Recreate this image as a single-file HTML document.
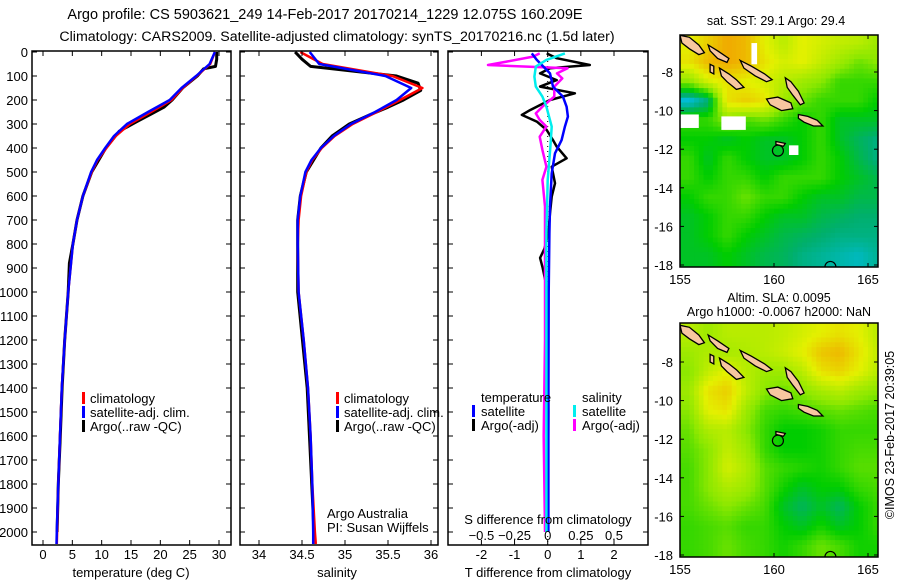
<!DOCTYPE html>
<html><head><meta charset="utf-8"><style>
body{margin:0;background:#fff;}
svg{display:block;font-family:"Liberation Sans",sans-serif;}
text{font-size:13px;fill:#000;}
</style></head><body>
<svg id="fig" width="900" height="580" viewBox="0 0 900 580" xmlns="http://www.w3.org/2000/svg">
<text x="325" y="19" text-anchor="middle" style="font-size:14.5px">Argo profile: CS 5903621_249 14-Feb-2017 20170214_1229 12.075S 160.209E</text>
<text x="337" y="41" text-anchor="middle" style="font-size:14.2px">Climatology: CARS2009. Satellite-adjusted climatology: synTS_20170216.nc (1.5d later)</text>
<text x="776" y="25" text-anchor="middle" style="font-size:12.5px">sat. SST: 29.1  Argo: 29.4</text>
<text x="779" y="302" text-anchor="middle" style="font-size:12.5px">Altim. SLA: 0.0095</text>
<text x="779" y="316" text-anchor="middle" style="font-size:12.5px">Argo h1000: -0.0067 h2000: NaN</text>
<text transform="translate(894,435) rotate(-90)" text-anchor="middle" style="font-size:12.5px">©IMOS 23-Feb-2017 20:39:05</text>
<g id="g"></g>
</svg>
<script>
// ---- profile data ----
const climDepth=[0,50,100,150,200,250,300,350,400,450,500,600,700,800,1000,1200,1400,1600,1800,2000,2050];
const climT=[29.3,28.5,26.2,23.8,21.9,18.4,14.8,12.4,10.8,9.3,8.3,6.8,5.8,5.1,4.3,3.7,3.2,2.9,2.6,2.4,2.35];
const satT=[29.3,28.4,26.1,23.6,21.6,17.9,14.3,12.1,10.6,9.2,8.2,6.8,5.8,5.1,4.3,3.7,3.2,2.9,2.6,2.35,2.3];
const argoTDepth=[0,30,60,70,100,150,200,230,260,290,330,400,500,600,700,800,880,1000,1200,1400,1600,1800,2000];
const argoT=[29.6,29.6,29.4,27.4,26.3,23.8,22.0,20.6,18.3,16.0,13.0,10.7,8.3,6.8,5.8,5.1,4.5,4.3,3.7,3.25,2.95,2.6,2.4];
const climS=[34.48,34.74,35.55,35.9,35.64,35.37,35.09,34.88,34.73,34.62,34.55,34.49,34.46,34.45,34.46,34.52,34.57,34.6,34.62,34.65,34.66];
const satS=[34.59,34.70,35.47,35.77,35.60,35.35,35.07,34.87,34.72,34.61,34.54,34.48,34.45,34.45,34.46,34.52,34.57,34.6,34.62,34.63,34.63];
const argoSDepth=[0,30,60,70,100,130,160,200,230,260,300,350,400,500,600,700,1000,1400,2000];
const argoS=[34.42,34.5,34.6,34.85,35.6,35.85,35.88,35.68,35.5,35.3,35.05,34.85,34.72,34.55,34.48,34.45,34.45,34.56,34.64];
// ---- difference data ----
const dTsatDepth=[6,33,89,144,186,228,269,311,367,422,506,644,756,1000,1500,2000];
const dTsat=[-0.48,-0.33,0.07,0.16,0.46,0.57,0.61,0.52,0.42,0.22,0.12,0.07,0.05,0.03,0.02,0.02];
const dTargoDepth=[6,26,54,68,89,117,144,172,200,242,262,290,325,367,394,443,478,547,603,672,756,820,858,900,1000,1500,2000];
const dTargo=[-0.03,0.27,1.27,0.07,-0.23,0.27,-0.23,0.82,0.07,-0.53,-0.78,-0.33,-0.03,0.16,0.27,0.57,0.12,0.22,0.12,0.07,0.02,-0.1,-0.23,-0.15,0.0,0.02,0.0];
const dSsatDepth=[6,33,61,103,144,186,228,311,394,533,756,1200,2000];
const dSsat=[0.13,-0.01,-0.09,-0.10,-0.09,-0.04,-0.01,0.03,0.02,0.0,-0.01,-0.01,-0.01];
const dSargoDepth=[6,19,40,54,68,89,110,144,186,228,256,283,311,353,408,478,533,644,756,1200,1600,2000];
const dSargo=[-0.06,-0.11,-0.31,-0.45,0.15,0.07,0.11,0.05,0.05,-0.04,-0.09,-0.06,-0.01,-0.06,-0.04,-0.01,-0.04,-0.02,-0.02,-0.02,-0.03,-0.02];
// ---- map data (colour index grids, rows lat -6.5..-17.5, cols lon 155.5..165.5) ----
const mapLats=[-6.5,-7.5,-8.5,-9.5,-10.5,-11.5,-12.5,-13.5,-14.5,-15.5,-16.5,-17.5];
const mapLons=[155.5,156.5,157.5,158.5,159.5,160.5,161.5,162.5,163.5,164.5,165.5];
const sstGrid=[
[.70,.75,.80,.78,.70,.65,.70,.68,.66,.65,.62],
[.72,.78,.80,.78,.72,.68,.70,.66,.62,.58,.60],
[.60,.68,.72,.70,.68,.65,.62,.60,.55,.55,.55],
[.40,.45,.72,.75,.72,.62,.58,.55,.55,.55,.52],
[.55,.55,.60,.56,.58,.55,.52,.55,.50,.50,.50],
[.52,.52,.50,.52,.50,.50,.52,.55,.50,.47,.45],
[.55,.50,.55,.52,.50,.50,.52,.55,.52,.48,.45],
[.55,.52,.55,.55,.52,.55,.55,.55,.52,.50,.48],
[.52,.55,.55,.58,.55,.55,.52,.50,.50,.48,.48],
[.50,.52,.55,.55,.52,.50,.50,.48,.47,.46,.46],
[.50,.52,.55,.52,.50,.48,.47,.46,.45,.45,.45],
[.50,.50,.52,.50,.48,.47,.45,.44,.43,.42,.44]];
const sstGaps=[[155,-10.2,156,-10.9],[157.2,-10.3,158.5,-11.0],[158.8,-6.5,159.1,-7.6],[160.8,-11.8,161.3,-12.3]];
const slaGrid=[
[.65,.62,.65,.65,.65,.66,.68,.70,.72,.70,.65],
[.62,.64,.63,.64,.65,.67,.70,.76,.78,.72,.66],
[.60,.66,.70,.65,.62,.62,.65,.72,.74,.70,.65],
[.62,.72,.75,.66,.60,.58,.60,.63,.65,.62,.60],
[.60,.70,.72,.62,.56,.55,.56,.57,.58,.57,.56],
[.58,.64,.65,.60,.55,.52,.52,.53,.55,.55,.55],
[.57,.60,.66,.62,.55,.52,.52,.53,.55,.56,.56],
[.56,.60,.68,.64,.57,.55,.54,.53,.55,.57,.57],
[.56,.60,.64,.62,.57,.53,.50,.52,.52,.55,.56],
[.56,.58,.60,.58,.56,.50,.47,.50,.47,.52,.55],
[.55,.56,.57,.55,.55,.52,.50,.53,.50,.52,.55],
[.55,.56,.58,.56,.55,.53,.55,.58,.56,.53,.53]];
const islands=[
[[155.0,-6.1],[155.5,-6.2],[156.0,-6.6],[156.3,-7.0],[156.0,-7.1],[155.5,-6.8],[155.1,-6.5]],
[[156.5,-6.6],[157.0,-6.9],[157.6,-7.3],[157.5,-7.5],[157.0,-7.3],[156.6,-6.9]],
[[158.2,-7.4],[158.8,-7.7],[159.5,-8.1],[159.9,-8.4],[159.6,-8.5],[159.0,-8.2],[158.4,-7.8]],
[[157.1,-7.8],[157.6,-8.1],[158.0,-8.4],[158.4,-8.8],[158.0,-8.9],[157.5,-8.5],[157.2,-8.2]],
[[156.6,-7.6],[156.8,-7.7],[156.8,-8.1],[156.6,-8.0]],
[[159.6,-9.4],[160.2,-9.3],[160.9,-9.6],[161.0,-9.9],[160.4,-10.0],[159.8,-9.7]],
[[160.6,-8.3],[160.9,-8.5],[161.3,-9.0],[161.6,-9.6],[161.4,-9.7],[161.0,-9.2],[160.7,-8.8]],
[[161.3,-10.2],[161.8,-10.3],[162.3,-10.5],[162.6,-10.8],[162.1,-10.8],[161.6,-10.6],[161.3,-10.4]],
[[160.1,-11.6],[160.6,-11.7],[160.5,-11.85],[160.1,-11.75]]];
const floatLon=160.209, floatLat=-12.075;

const NS='http://www.w3.org/2000/svg';
const G=document.getElementById('g');
function mk(tag,attrs,parent){const e=document.createElementNS(NS,tag);for(const k in attrs)e.setAttribute(k,attrs[k]);(parent||G).appendChild(e);return e;}
function lin(d0,d1,r0,r1){return v=>r0+(v-d0)*(r1-r0)/(d1-d0);}
const yD=lin(0,2000,52,532);
function polyline(xs,ds,xf,col,w,name,clip){
  const pts=xs.map((v,i)=>xf(v).toFixed(1)+','+yD(ds[i]).toFixed(1)).join(' ');
  const p=mk('polyline',{points:pts,fill:'none',stroke:col,'stroke-width':w,'stroke-linejoin':'round','clip-path':clip});
  
  
}
function frame(x0,x1,y0,y1,name){
  const r=mk('rect',{x:x0,y:y0,width:x1-x0,height:y1-y0,fill:'none',stroke:'#000','stroke-width':1.5});
  
  
}
function text(x,y,s,anchor,name,size){
  const t=mk('text',{x:x,y:y,'text-anchor':anchor||'start'});
  if(size)t.style.fontSize=size+'px';
  t.textContent=s;
  
  
  return t;
}
function clip(id,x0,x1,y0,y1){const d=mk('clipPath',{id:id});mk('rect',{x:x0,y:y0,width:x1-x0,height:y1-y0},d);return 'url(#'+id+')';}
const Y0=52-1,Y1=545;
const depthTicks=[0,100,200,300,400,500,600,700,800,900,1000,1100,1200,1300,1400,1500,1600,1700,1800,1900,2000];
function depthTickMarks(x0,x1,labels){
  depthTicks.forEach(d=>{const y=yD(d);
    mk('line',{x1:x0,y1:y,x2:x0+5,y2:y,stroke:'#000'});mk('line',{x1:x1,y1:y,x2:x1-5,y2:y,stroke:'#000'});
    if(labels)text(x0-4,y+5,String(d),'end','depth-tick-label');});
}
function xTicks(vals,xf,yTop,yBot,labY,labels,name){
  vals.forEach((v,i)=>{const x=xf(v);
    mk('line',{x1:x,y1:yBot,x2:x,y2:yBot-5,stroke:'#000'});mk('line',{x1:x,y1:yTop,x2:x,y2:yTop+5,stroke:'#000'});
    if(labels)text(x,labY,labels[i],'middle',name);});
}
function legend(x,y,items,name){
  items.forEach((it,i)=>{mk('rect',{x:x,y:y+i*14-11,width:3,height:12,fill:it[1]});text(x+8,y+i*14,it[0],'start',name);});
}
// ---- panel 1 temperature ----
const xT=lin(0,30,43,219);
const c1=clip('c1',32,231,Y0,Y1);
polyline(argoT,argoTDepth,xT,'#000',3,'argo-temperature-line',c1);
polyline(climT,climDepth,xT,'#f00',2.5,'climatology-temperature-line',c1);
polyline(satT,climDepth,xT,'#00f',2.5,'satellite-temperature-line',c1);
frame(32,231,Y0,Y1,'temperature-panel-frame');
depthTickMarks(32,231,true);
const tT=[0,5,10,15,20,25,30];
xTicks(tT,xT,Y0,Y1,559,tT.map(String),'temperature-tick-label');
text(131,577,'temperature (deg C)','middle','temperature-axis-title');
legend(82,403,[['climatology','#f00'],['satellite-adj. clim.','#00f'],['Argo(..raw -QC)','#000']],'temperature-legend-entry');
// ---- panel 2 salinity ----
const xS=lin(34,36,259,431);
const c2=clip('c2',240,438,Y0,Y1);
polyline(argoS,argoSDepth,xS,'#000',3,'argo-salinity-line',c2);
polyline(climS,climDepth,xS,'#f00',2.5,'climatology-salinity-line',c2);
polyline(satS,climDepth,xS,'#00f',2.5,'satellite-salinity-line',c2);
frame(240,438,Y0,Y1,'salinity-panel-frame');
depthTickMarks(240,438,false);
const tS=[34,34.5,35,35.5,36];
xTicks(tS,xS,Y0,Y1,559,['34','34.5','35','35.5','36'],'salinity-tick-label');
text(337,577,'salinity','middle','salinity-axis-title');
legend(336,403,[['climatology','#f00'],['satellite-adj. clim.','#00f'],['Argo(..raw -QC)','#000']],'salinity-legend-entry');
text(327,518,'Argo Australia','start','argo-australia-label');
text(327,532,'PI: Susan Wijffels','start','pi-label');
// ---- panel 3 differences ----
const xDT=lin(0,2,547.7,614);
const xDS=lin(0,0.5,547.7,614);
const c3=clip('c3',448,648,Y0,Y1);
mk('line',{x1:xDT(0),y1:Y0,x2:xDT(0),y2:Y1,stroke:'#000','stroke-dasharray':'1,4'});
polyline(dTargo,dTargoDepth,xDT,'#000',2.5,'argo-t-difference-line',c3);
polyline(dSargo,dSargoDepth,xDS,'#f0f',2.5,'argo-s-difference-line',c3);
polyline(dTsat,dTsatDepth,xDT,'#00f',2.5,'satellite-t-difference-line',c3);
polyline(dSsat,dSsatDepth,xDS,'#0ee',2.5,'satellite-s-difference-line',c3);
frame(448,648,Y0,Y1,'difference-panel-frame');
depthTickMarks(448,648,false);
const tDT=[-2,-1,0,1,2];
xTicks(tDT,xDT,Y0,Y1,559,tDT.map(String),'t-difference-tick-label');
const tDS=[-0.5,-0.25,0,0.25,0.5];
tDS.forEach((v,i)=>text(xDS(v),540,['−0.5','−0.25','0','0.25','0.5'][i],'middle','s-difference-tick-label'));
text(548,524,'S difference from climatology','middle','s-difference-axis-title');
text(548,577,'T difference from climatology','middle','t-difference-axis-title');
text(481,402,'temperature','start','legend-temperature-header');
text(582,402,'salinity','start','legend-salinity-header');
mk('rect',{x:472,y:405,width:3,height:12,fill:'#00f'});text(481,416,'satellite','start','legend-t-satellite');
mk('rect',{x:472,y:419,width:3,height:12,fill:'#000'});text(481,430,'Argo(-adj)','start','legend-t-argo');
mk('rect',{x:573,y:405,width:3,height:12,fill:'#0ee'});text(582,416,'satellite','start','legend-s-satellite');
mk('rect',{x:573,y:419,width:3,height:12,fill:'#f0f'});text(582,430,'Argo(-adj)','start','legend-s-argo');
// ---- maps ----
const cstops=[[0.3,[0,0,180]],[0.4,[0,190,230]],[0.46,[0,175,110]],[0.52,[0,205,0]],[0.6,[140,232,0]],[0.7,[228,240,0]],[0.8,[240,170,0]],[0.9,[220,80,0]]];
function cmap(v){if(v<=cstops[0][0])return 'rgb('+cstops[0][1]+')';
  for(let i=1;i<cstops.length;i++){if(v<=cstops[i][0]){const a=cstops[i-1],b=cstops[i],t=(v-a[0])/(b[0]-a[0]);
    return 'rgb('+a[1].map((c,k)=>Math.round(c+(b[1][k]-c)*t)).join(',')+')';}}
  return 'rgb('+cstops[cstops.length-1][1]+')';}
function sample(grid,lon,lat){
  let fc=(lon-mapLons[0]),fr=(mapLats[0]-lat);
  fc=Math.max(0,Math.min(mapLons.length-1.001,fc));fr=Math.max(0,Math.min(mapLats.length-1.001,fr));
  const c=Math.floor(fc),r=Math.floor(fr),tc=fc-c,tr=fr-r;
  return grid[r][c]*(1-tc)*(1-tr)+grid[r][c+1]*tc*(1-tr)+grid[r+1][c]*(1-tc)*tr+grid[r+1][c+1]*tc*tr;
}
function drawMap(grid,yTop,yBot,latTopPx,name,step,gaps){
  const xL=lin(155,165,680,868), yL=lin(-8,-18,latTopPx,latTopPx+193);
  const x0=680,x1=878;
  const cp=clip(name+'-clip',x0,x1,yTop,yBot);
  const g=mk('g',{'clip-path':cp});
  
  
  const latTop=-8+(latTopPx-yTop)/19.3;
  for(let lat=latTop;lat>-18.6;lat-=step){for(let lon=155;lon<165.6;lon+=step){
    const v=sample(grid,lon+step/2,lat-step/2);
    const cell=mk('rect',{x:xL(lon).toFixed(2),y:yL(lat).toFixed(2),width:(step*18.8+0.6).toFixed(2),height:(step*19.3+0.6).toFixed(2),fill:cmap(v)},g);
    
    
  }}
  (gaps||[]).forEach(b=>mk('rect',{x:xL(b[0]),y:yL(b[1]),width:xL(b[2])-xL(b[0]),height:yL(b[3])-yL(b[1]),fill:'#fff'},g));
  islands.forEach(poly=>{const p=mk('polygon',{points:poly.map(q=>xL(q[0]).toFixed(1)+','+yL(q[1]).toFixed(1)).join(' '),fill:'#f7c7a0',stroke:'#000','stroke-width':1.3},g);
    
    });
  const m=mk('circle',{cx:xL(floatLon),cy:yL(floatLat),r:5.5,fill:'none',stroke:'#000','stroke-width':1.2},g);
  
  
  mk('circle',{cx:xL(163),cy:yL(-18.1),r:5.5,fill:'none',stroke:'#000','stroke-width':1.2},g);
  frame(x0,x1,yTop,yBot,name+'-frame');
  [-8,-10,-12,-14,-16,-18].forEach(l=>{const y=yL(l);mk('line',{x1:x0,y1:y,x2:x0+4,y2:y,stroke:'#000'});mk('line',{x1:x1,y1:y,x2:x1-4,y2:y,stroke:'#000'});
    text(673,y+5,String(l),'end',name+'-lat-label');});
  [155,160,165].forEach(l=>{const x=xL(l);mk('line',{x1:x,y1:yBot,x2:x,y2:yBot-4,stroke:'#000'});mk('line',{x1:x,y1:yTop,x2:x,y2:yTop+4,stroke:'#000'});
    text(x,yBot+17,String(l),'middle',name+'-lon-label');});
}
drawMap(sstGrid,35,267,72,'sst-map',0.25,sstGaps);
drawMap(slaGrid,323,557,362,'sla-map',0.25,null);
</script>
</body></html>
